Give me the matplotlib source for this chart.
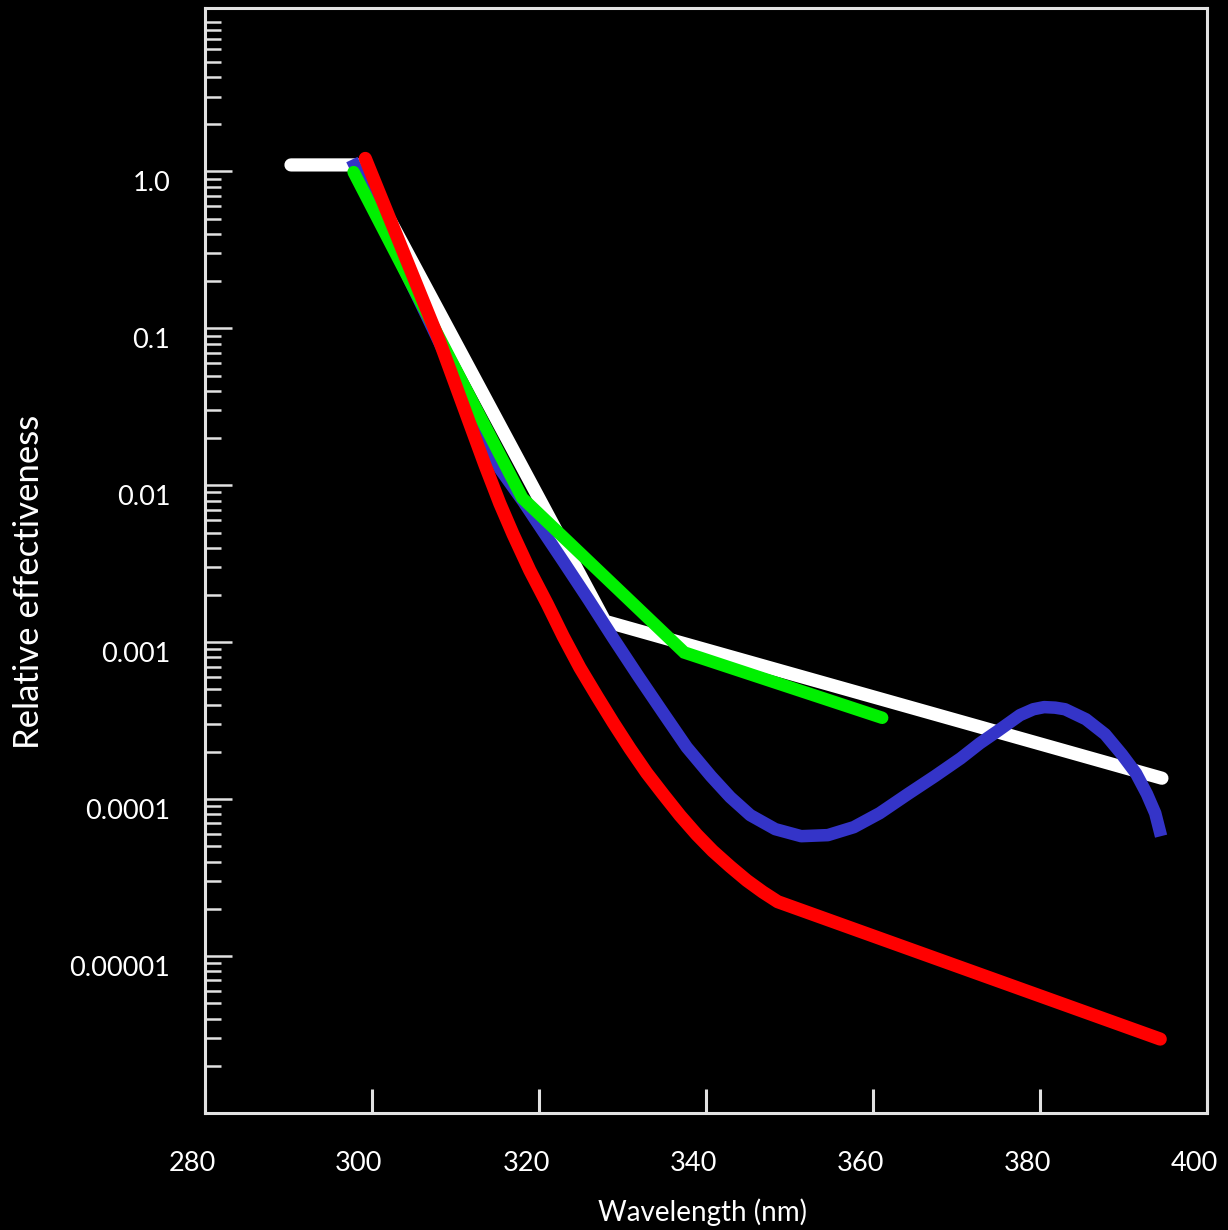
import matplotlib
matplotlib.use('Agg')
import matplotlib.pyplot as plt
import matplotlib.transforms as mtransforms
from matplotlib.ticker import LogLocator, NullFormatter

plt.rcParams['font.family'] = ['Lato', 'DejaVu Sans']

# action spectra (wavelength nm, relative effectiveness)
white_x = [290.3, 298.6, 327.9, 394.6]
white_y = [1.1, 1.1, 1.36e-3, 1.36e-4]

blue_x = [297.6, 315.3, 318.1, 320.5, 322.9, 325.9, 328.9, 331.9, 334.9,
          337.7, 340.6, 342.9, 345.3, 348.3, 351.4, 354.6, 357.7, 360.8,
          364.2, 367.4, 370.5, 372.8, 374.9, 377.6, 379.2, 380.5, 381.8,
          383.0, 385.5, 387.8, 389.8, 391.5, 392.8, 393.8, 394.5]
blue_y = [1.19, 1.28e-2, 7.91e-3, 5.09e-3, 3.28e-3, 1.88e-3, 1.06e-3,
          6.07e-4, 3.53e-4, 2.14e-4, 1.40e-4, 1.03e-4, 7.91e-5, 6.44e-5,
          5.81e-5, 5.90e-5, 6.63e-5, 8.14e-5, 1.08e-4, 1.40e-4, 1.82e-4,
          2.27e-4, 2.71e-4, 3.43e-4, 3.74e-4, 3.86e-4, 3.83e-4, 3.74e-4,
          3.23e-4, 2.59e-4, 1.93e-4, 1.46e-4, 1.08e-4, 8.14e-5, 5.81e-5]

green_x = [297.8, 318.0, 337.4, 361.1]
green_y = [0.99, 8.3e-3, 8.6e-4, 3.3e-4]

red_x = [299.2, 308.1, 313.5, 315.3, 316.9, 318.9, 321.0, 322.9, 324.9,
         327.0, 328.9, 330.9, 332.9, 334.9, 336.9, 338.9, 340.8, 342.9,
         344.9, 346.8, 348.6, 394.4]
red_y = [1.21, 8.26e-2, 1.36e-2, 7.68e-3, 4.87e-3, 2.87e-3, 1.75e-3,
         1.09e-3, 6.88e-4, 4.48e-4, 3.07e-4, 2.10e-4, 1.47e-4, 1.07e-4,
         7.86e-5, 5.94e-5, 4.68e-5, 3.72e-5, 3.03e-5, 2.56e-5, 2.22e-5,
         2.96e-6]

x_ticks = [280, 300, 320, 340, 360, 380, 400]
y_ticks = [1.0, 0.1, 0.01, 0.001, 0.0001, 0.00001]
y_tick_labels = ['1.0', '0.1', '0.01', '0.001', '0.0001', '0.00001']

fig = plt.figure(figsize=(12.28, 12.30), dpi=100, facecolor='black')
ax = fig.add_axes([0.1669, 0.0951, 0.816, 0.8984], facecolor='black')

ax.plot(white_x, white_y, color='white', lw=9.5, solid_capstyle='round',
        solid_joinstyle='miter', zorder=2)
ax.plot(blue_x, blue_y, color='#3434c8', lw=9, solid_capstyle='butt',
        solid_joinstyle='round', zorder=3)
ax.plot(green_x, green_y, color='#00f000', lw=9, solid_capstyle='round',
        solid_joinstyle='miter', zorder=4)
ax.plot(red_x, red_y, color='#ff0000', lw=9.5, solid_capstyle='round',
        solid_joinstyle='round', zorder=5)

ax.set_yscale('log')
ax.set_xlim(280, 400)
ax.set_ylim(1.0e-6, 11)

spine_col = '#e2e2e2'
for s in ax.spines.values():
    s.set_color(spine_col)
    s.set_linewidth(2.2)

ax.set_xticks(x_ticks)
ax.set_xticklabels([str(v) for v in x_ticks])
ax.set_yticks(y_ticks)
ax.set_yticklabels(y_tick_labels)
ax.yaxis.set_minor_locator(LogLocator(base=10, subs=range(2, 10), numticks=20))
ax.yaxis.set_minor_formatter(NullFormatter())

ax.tick_params(axis='x', which='major', direction='in', length=17, width=2.2,
               color=spine_col, labelcolor='white', labelsize=19.5, pad=27)
ax.tick_params(axis='y', which='major', direction='in', length=19.5,
               width=1.8, color=spine_col, labelcolor='white',
               labelsize=19.5, pad=25)
ax.tick_params(axis='y', which='minor', direction='in', length=11.5,
               width=1.8, color=spine_col)

# labels in the original sit a little left / below their ticks
off_x = mtransforms.ScaledTranslation(-13 / 100, 0, fig.dpi_scale_trans)
for lab in ax.get_xticklabels():
    lab.set_transform(lab.get_transform() + off_x)
off_y = mtransforms.ScaledTranslation(0, -10 / 100, fig.dpi_scale_trans)
for lab in ax.get_yticklabels():
    lab.set_transform(lab.get_transform() + off_y)

ax.set_xlabel('Wavelength (nm)', color='white', fontsize=20)
ax.set_ylabel('Relative effectiveness', color='white', fontsize=25)
ax.xaxis.set_label_coords(0.497, -0.077)
ax.yaxis.set_label_coords(-0.16, 0.4805)

fig.savefig('out.png', dpi=100, facecolor='black')
plt.close()
